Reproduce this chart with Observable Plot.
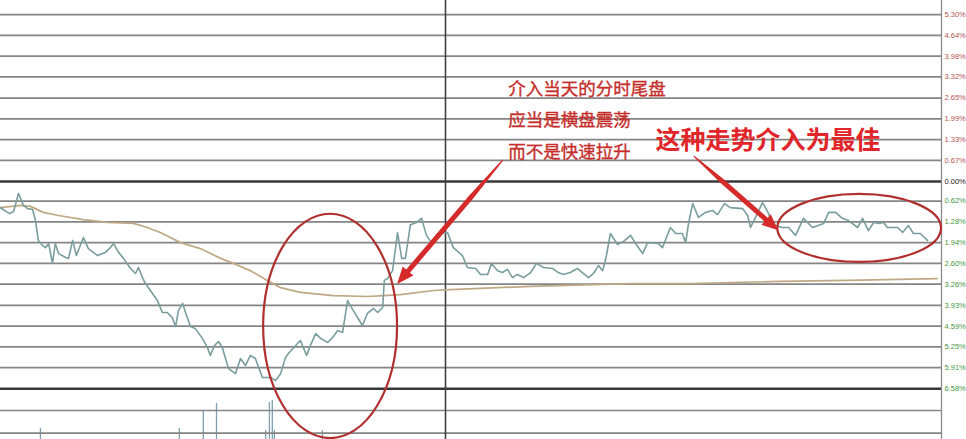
<!DOCTYPE html>
<html><head><meta charset="utf-8">
<script src="https://cdn.jsdelivr.net/npm/d3@7"></script>
<script src="https://cdn.jsdelivr.net/npm/@observablehq/plot@0.6"></script>
<style>
html,body{margin:0;padding:0;background:#fff;}
#wrap{position:relative;width:966px;height:439px;overflow:hidden;background:#fff;}
#wrap svg{position:absolute;left:0;}
</style></head><body><div id="wrap"></div>
<script>
// price line: [minute, % change]
const priceSeries = [
[12.3,-0.83],[14.5,-1.02],[15.5,-0.95],[16.7,-0.38],[17.9,-0.76],[18.9,-0.86],[20.1,-0.89],[20.8,-1.24],
[21.5,-1.87],[22.5,-2.03],[23.2,-2.10],[24.0,-1.97],[24.9,-2.60],[25.6,-1.97],[26.4,-2.29],[28.1,-2.41],
[28.8,-2.44],[29.8,-1.87],[30.7,-2.35],[32.4,-1.78],[33.6,-2.13],[35.8,-2.35],[37.7,-2.25],[38.9,-2.10],
[39.7,-1.97],[40.9,-2.25],[42.1,-2.44],[43.8,-2.76],[45.0,-2.92],[45.7,-2.73],[46.7,-3.05],[47.4,-3.24],
[48.6,-3.46],[50.3,-3.78],[51.5,-4.16],[52.7,-4.16],[53.9,-4.32],[54.7,-4.60],[55.4,-4.10],[56.4,-3.87],
[57.1,-4.16],[58.3,-4.60],[59.5,-4.67],[61.2,-4.98],[62.4,-5.27],[63.1,-5.52],[64.1,-5.21],[65.1,-5.08],
[66.0,-5.27],[67.5,-5.94],[69.2,-6.10],[70.4,-5.62],[71.6,-5.84],[72.8,-5.52],[74.0,-5.62],[74.8,-5.90],
[75.7,-6.22],[77.7,-6.22],[78.9,-6.32],[80.1,-6.10],[81.3,-5.59],[82.0,-5.46],[84.2,-5.14],[84.9,-5.05],
[86.4,-5.52],[87.3,-5.21],[88.6,-4.83],[89.8,-4.98],[91.5,-5.11],[92.7,-4.95],[93.9,-4.73],[95.1,-4.79],
[96.3,-3.78],[97.7,-4.10],[99.9,-4.57],[101.1,-4.19],[102.6,-4.03],[103.6,-4.16],[104.8,-4.00],[105.2,-3.14],
[106.0,-3.08],[107.2,-2.83],[108.4,-1.62],[109.4,-2.44],[110.3,-2.44],[111.5,-1.37],[113.0,-1.30],[114.2,-1.17],
[115.4,-1.71],[116.6,-1.94],[118.1,-1.65],[120.5,-1.62],[121.9,-2.10],[124.1,-2.35],[125.3,-2.73],[127.3,-2.76],
[128.5,-2.95],[130.2,-2.95],[131.1,-2.60],[132.6,-2.83],[133.8,-2.89],[135.0,-2.79],[136.2,-3.05],[137.4,-2.95],
[138.9,-3.05],[140.6,-2.89],[142.0,-2.60],[143.7,-2.73],[145.9,-2.76],[147.3,-2.89],[148.5,-2.95],[150.2,-2.89],
[151.9,-2.76],[153.1,-2.89],[154.6,-3.05],[155.8,-2.92],[157.0,-2.67],[158.0,-2.83],[158.7,-2.51],[159.9,-1.65],
[161.6,-2.00],[163.1,-1.90],[164.8,-1.71],[166.0,-1.97],[167.7,-2.29],[168.9,-1.94],[171.5,-1.97],[172.5,-2.10],
[174.4,-1.46],[175.7,-1.65],[177.3,-1.65],[178.1,-1.94],[178.8,-1.33],[179.8,-0.70],[181.2,-1.14],[182.9,-0.98],
[184.6,-0.92],[185.8,-1.05],[187.5,-0.70],[188.9,-0.83],[191.9,-0.86],[193.1,-1.08],[193.8,-1.46],[195.0,-1.14],
[196.7,-0.67],[197.9,-0.95],[199.1,-1.30],[199.8,-1.40],[201.5,-1.46],[203.0,-1.46],[204.7,-1.71],[206.6,-1.17],
[208.8,-1.46],[211.5,-1.33],[212.7,-0.98],[214.4,-0.98],[216.0,-1.17],[217.5,-1.24],[219.7,-1.46],[220.9,-1.17],
[222.3,-1.56],[223.6,-1.30],[224.8,-1.33],[226.0,-1.30],[226.9,-1.46],[229.4,-1.46],[230.6,-1.62],[232.0,-1.40],
[233.2,-1.65],[234.9,-1.65],[236.6,-1.87]
];
// average price line: [minute, % change]
const avgSeries = [
[12.3,-0.83],[17.2,-0.76],[19.6,-0.79],[22.7,-0.98],[26.4,-1.08],[32.4,-1.21],[38.2,-1.30],[44.5,-1.33],
[47.9,-1.46],[51.0,-1.62],[55.9,-1.94],[60.7,-2.13],[65.6,-2.44],[68.7,-2.60],[72.8,-2.83],[76.9,-3.14],
[80.1,-3.37],[84.9,-3.52],[92.9,-3.62],[101.1,-3.65],[105.0,-3.62],[109.1,-3.59],[117.1,-3.46],[121.2,-3.43],
[140.6,-3.33],[164.8,-3.24],[179.3,-3.24],[201.0,-3.17],[217.3,-3.14],[239.0,-3.08]
];
// volume bars
const volMinutes = [22.0, 55.6, 61.4, 64.6, 76.5, 77.4, 78.1, 78.6, 90.2];
const volValues  = [11, 11, 28, 36, 9, 37, 39, 9, 9];
// right axis
const tickValues = [5.30,4.64,3.98,3.32,2.65,1.99,1.33,0.67,0,-0.62,-1.28,-1.94,-2.60,-3.26,-3.93,-4.59,-5.25,-5.91,-6.58];
const tickLabels = ["5.30%","4.64%","3.98%","3.32%","2.65%","1.99%","1.33%","0.67%","0.00%","0.62%","1.28%","1.94%","2.60%","3.26%","3.93%","4.59%","5.25%","5.91%","6.58%"];
const volGridValues = [-7.27, -7.99];
// annotation texts
const noteLines = ["介入当天的分时尾盘","应当是横盘震荡","而不是快速拉升"];
const noteBest = "这种走势介入为最佳";

const W = 966, H = 439;
const xDomain = [12.34, 240];
const yDomain = [-8.19, 5.746];

const ticks = tickValues.map((v,i)=>({v, t: tickLabels[i]}));
const volData = volMinutes.map((m,i)=>({m, v: volValues[i]}));
const noteData = noteLines.map((t,i)=>({t, m: 135.2, p: [2.92, 1.94, 0.92][i]}));

const vol = Plot.plot({
  width: W, height: 51, marginLeft: 0, marginRight: 25, marginTop: 0, marginBottom: 0,
  x: {domain: xDomain, axis: null}, y: {domain: [0, 51], axis: null},
  style: {background: "transparent"},
  marks: [
    Plot.ruleX(volData, {x: "m", y1: 0, y2: "v", stroke: "#7f9fb0", strokeWidth: 1.3})
  ]
});
vol.style.top = "388px";

const main = Plot.plot({
  width: W, height: H, marginLeft: 0, marginRight: 25, marginTop: 0, marginBottom: 0,
  x: {domain: xDomain, axis: null}, y: {domain: yDomain, axis: null},
  style: {background: "transparent", overflow: "visible"},
  marks: [
    Plot.ruleY(tickValues.filter(v => v !== 0 && v !== -6.58).concat(volGridValues), {stroke: "#858585", strokeWidth: 1.7}),
    Plot.ruleY([0, -6.58], {stroke: "#383838", strokeWidth: 2.6}),
    Plot.ruleX([120], {stroke: "#404040", strokeWidth: 1.6}),
    Plot.ruleX([240], {stroke: "#8a8a8a", strokeWidth: 1.3}),
    Plot.line(avgSeries, {x: d => d[0], y: d => d[1], stroke: "#bfa985", strokeWidth: 1.7}),
    Plot.line(priceSeries, {x: d => d[0], y: d => d[1], stroke: "#7a9d9d", strokeWidth: 1.6}),
    Plot.text(ticks.filter(d => d.v > 0), {x: () => 240, y: "v", text: "t", dx: 3, textAnchor: "start", fill: "#b5534f", fontSize: 7.5, fontFamily: "Liberation Sans"}),
    Plot.text(ticks.filter(d => d.v === 0), {x: () => 240, y: "v", text: "t", dx: 3, textAnchor: "start", fill: "#222", fontSize: 7.5, fontFamily: "Liberation Sans"}),
    Plot.text(ticks.filter(d => d.v < 0), {x: () => 240, y: "v", text: "t", dx: 3, textAnchor: "start", fill: "#3f9a3f", fontSize: 7.5, fontFamily: "Liberation Sans"}),
    Plot.text(noteData, {x: "m", y: "p", text: "t", textAnchor: "start", fill: "#c52e2a", stroke: "#c52e2a", strokeWidth: 0.35, fontSize: 17.5, fontFamily: "Noto Sans CJK SC"}),
    Plot.text([noteBest], {x: () => 170.8, y: () => 1.30, text: d => d, textAnchor: "start", fill: "#e0262a", fontSize: 25, fontWeight: "bold", fontFamily: "Noto Sans CJK SC"})
  ]
});
main.style.top = "0px";

const wrap = document.getElementById("wrap");
wrap.appendChild(vol);
wrap.appendChild(main);

// annotations: ellipses and arrows, in data units mapped through the plot's scales
const sx = main.scale("x"), sy = main.scale("y");
const svg = d3.select(main);
function ellipse(cm, cp, rm, rp) {
  const cx = sx.apply(cm), cy = sy.apply(cp);
  svg.append("ellipse").attr("cx", cx).attr("cy", cy)
    .attr("rx", Math.abs(sx.apply(cm + rm) - cx)).attr("ry", Math.abs(sy.apply(cp + rp) - cy))
    .attr("fill", "none").attr("stroke", "#b0302e").attr("stroke-width", 2.2);
}
function arrow(t0, t1, wTail, wBody, headLen, headW, taperFrac) {
  const x0 = sx.apply(t0[0]), y0 = sy.apply(t0[1]);
  const x1 = sx.apply(t1[0]), y1 = sy.apply(t1[1]);
  const dx = x1 - x0, dy = y1 - y0, L = Math.hypot(dx, dy);
  const ux = dx / L, uy = dy / L, nx = -uy, ny = ux;
  const neck = L - headLen, tp = L * taperFrac;
  const pts = [[0, wTail/2],[tp, wBody/2],[neck, wBody/2],[neck, headW/2],[L, 0],[neck, -headW/2],[neck, -wBody/2],[tp, -wBody/2],[0, -wTail/2]]
    .map(([s, w]) => [x0 + ux*s + nx*w, y0 + uy*s + ny*w].join(","));
  svg.append("polygon").attr("points", pts.join(" ")).attr("fill", "#d42a2a");
}
ellipse(92.2, -4.60, 16.2, 3.56);
ellipse(220.2, -1.49, 19.8, 1.08);
arrow([134.0, 0.67], [108.4, -3.27], 1.2, 5, 17, 14, 0.3);
arrow([180.2, 0.79], [200.6, -1.56], 1.2, 5, 16, 14, 0.35);
</script>
</body></html>
